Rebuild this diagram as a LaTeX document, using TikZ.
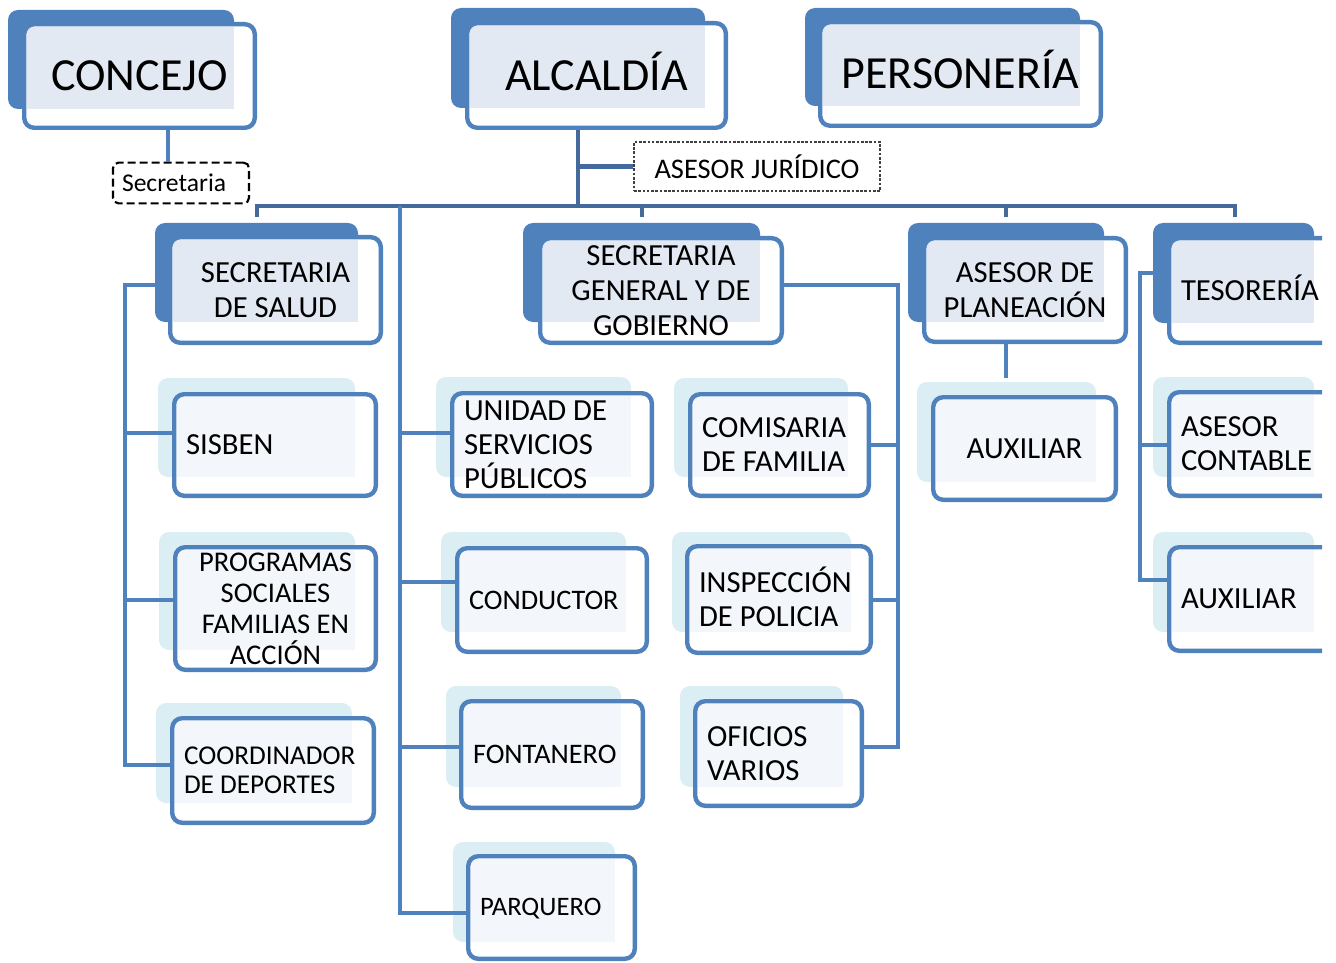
\documentclass[tikz,border=0pt]{standalone}
\usepackage{fontspec}
\setmainfont{Carlito}
\usetikzlibrary{calc}
\definecolor{boxblue}{HTML}{4F81BD}
\definecolor{busblue}{HTML}{44699C}
\definecolor{lightback}{HTML}{DBEEF3}
\definecolor{dotcol}{HTML}{E3E9F2}
\definecolor{dotlt}{HTML}{F3F6FA}
\def\getB#1/#2/#3/#4\endget{\def\bxa{#1}\def\bya{#2}\def\bxb{#3}\def\byb{#4}}
\def\getF#1/#2/#3/#4\endget{\def\fxa{#1}\def\fya{#2}\def\fxb{#3}\def\fyb{#4}}
% #1 name, #2 back colour, #3 texture colour, #4 back x1/y1/x2/y2, #5 front x1/y1/x2/y2, #6 options, #7 text
\newcommand\mkbox[7]{%
  \getB#4\endget
  \getF#5\endget
  \fill[#2, rounded corners=7.5pt] (\bxa,\bya) rectangle (\bxb,\byb);
  \fill[white, rounded corners=7.5pt] ({\fxa+2},{\fya+2}) rectangle ({\fxb-2},{\fyb-2});
  \fill[#3] ({\fxa+5},{\fya+5}) rectangle (\bxb,\byb);
  \pgfmathsetmacro\bw{(\fxb-\fxa-4.4)*0.75}
  \pgfmathsetmacro\bh{(\fyb-\fya-4.4)*0.75}
  \pgfmathsetmacro\tw{(\fxb-\fxa-28)*0.75}
  \node[frontbox, minimum width=\bw pt, minimum height=\bh pt, text width=\tw pt, #6]
    (#1) at ({(\fxa+\fxb)/2},{(\fya+\fyb)/2}) {#7};
}
\tikzset{
  frontbox/.style={draw=boxblue, line width=3.3pt, rounded corners=7.5pt, inner sep=0pt, align=flush center, text=black},
  lft/.style={align=flush left},
  ftop/.style={font=\fontsize{34.5}{40}\selectfont},
  fmid/.style={font=\fontsize{23}{26}\selectfont},
  fsub/.style={font=\fontsize{23}{25.5}\selectfont},
  fprog/.style={font=\fontsize{21.4}{23.3}\selectfont},
  fcoord/.style={font=\fontsize{20.4}{21.8}\selectfont},
  fcond/.style={font=\fontsize{21.2}{24}\selectfont},
  fparq/.style={font=\fontsize{20}{24}\selectfont},
  conn/.style={draw=boxblue, line width=3pt},
  busline/.style={draw=busblue, line width=3.5pt, line join=miter},
  secbox/.style={draw=black, line width=1.6pt, dash pattern=on 6pt off 3pt, rounded corners=4pt,
    inner sep=0pt, align=flush left, font=\fontsize{19.2}{22}\selectfont},
  jurbox/.style={draw=black!75, line width=0.8pt, dash pattern=on 2pt off 1.2pt,
    inner sep=0pt, align=flush center, font=\fontsize{21.3}{24}\selectfont}
}
\begin{document}
\begin{tikzpicture}[x=0.75pt, y=-0.75pt]
\useasboundingbox (0,0) rectangle (1336,963);
\begin{scope}
\clip (0,0) rectangle (1322,963);
% top level
\mkbox{concejo}{boxblue}{dotcol}{8/10/234/109}{22/22/257/130}{ftop}{CONCEJO}
\mkbox{alcaldia}{boxblue}{dotcol}{451/8/705/108}{465/21/728/130}{ftop}{ALCALD\smash{Í}A}
\mkbox{personeria}{boxblue}{dotcol}{805/8/1080/106}{818/20/1103/128}{ftop}{PERSONER\smash{Í}A}
% second level
\mkbox{salud}{boxblue}{dotcol}{155/223/358/322}{168/235/383/345}{fmid}{SECRETARIA\\DE SALUD}
\mkbox{secgen}{boxblue}{dotcol}{523/223/760/322}{538/236/784/345}{fmid}{SECRETARIA\\GENERAL Y DE\\GOBIERNO}
\mkbox{planeacion}{boxblue}{dotcol}{908/223/1104/322}{922/236/1128/344}{fmid}{ASESOR DE\\PLANEACIÓN}
\mkbox{tesoreria}{boxblue}{dotcol}{1153/223/1314/323}{1167/236/1380/345}{fmid,lft}{TESORER\smash{Í}A}
% third level
\mkbox{sisben}{lightback}{dotlt}{158/378/355/477}{172/392/378/498}{fsub,lft}{SISBEN}
\mkbox{programas}{lightback}{dotlt}{159/532/355/650}{173/545/378/672}{fprog}{PROGRAMAS\\SOCIALES\\FAMILIAS EN\\ACCIÓN}
\mkbox{coordinador}{lightback}{dotlt}{156/703/352/803}{170/716/376/825}{fcoord,lft}{COORDINADOR\\DE DEPORTES}
\mkbox{unidad}{lightback}{dotlt}{436/377/631/477}{450/391/654/498}{fsub,lft}{UNIDAD DE\\SERVICIOS\\PÚBLICOS}
\mkbox{conductor}{lightback}{dotlt}{441/532/626/632}{455/546/649/654}{fcond,lft}{CONDUCTOR}
\mkbox{fontanero}{lightback}{dotlt}{446/686/621/787}{459/699/645/810}{fcond,lft}{FONTANERO}
\mkbox{parquero}{lightback}{dotlt}{453/842/615/942}{466/854/637/961}{fparq,lft,text depth=1.5pt}{PARQUERO}
\mkbox{comisaria}{lightback}{dotlt}{674/378/848/477}{688/392/871/498}{fsub,lft}{COMISARIA\\DE FAMILIA}
\mkbox{inspeccion}{lightback}{dotlt}{672/532/851/632}{685/544/873/655}{fsub,lft}{INSPECCI\smash{Ó}N\\DE POLICIA}
\mkbox{oficios}{lightback}{dotlt}{680/686/843/787}{693/699/864/808}{fsub,lft}{OFICIOS\\VARIOS}
\mkbox{auxplan}{lightback}{dotlt}{917/382/1096/482}{931/395/1118/502}{fsub}{AUXILIAR}
\mkbox{contable}{lightback}{dotlt}{1153/377/1314/477}{1167/390/1380/498}{fsub,lft}{ASESOR\\CONTABLE}
\mkbox{auxtes}{lightback}{dotlt}{1153/532/1314/632}{1167/545/1380/653}{fsub,lft}{AUXILIAR}
\end{scope}
% dashed boxes
\node[secbox, minimum width=102pt, minimum height=30.5pt, text width=88.5pt] (secretaria) at (181,183) {Secretaria};
\node[jurbox, minimum width=184.5pt, minimum height=36.75pt] (asesorj) at (757,166.5) {ASESOR JURÍDICO};
% helper coordinates
\coordinate (xA) at (125,0);
\coordinate (xB) at (400,0);
\coordinate (xC) at (898,0);
\coordinate (xD) at (1140,0);
\coordinate (xE) at (168,0);
\coordinate (xF) at (578,0);
\coordinate (xP) at (1006,0);
\coordinate (busL) at (257,206);
\coordinate (b1) at (257,217);
\coordinate (b2) at (642,217);
\coordinate (b3) at (1006,217);
\coordinate (b4) at (1235,217);
% connectors
\draw[conn] (concejo.south -| xE) -- (secretaria.north -| xE);
\draw[busline] (alcaldia.south -| xF) -- (xF |- busL);
\draw[busline] (xF |- asesorj.west) -- (asesorj.west);
\draw[busline] (b1) -- (b1 |- busL) -- (b4 |- busL) -- (b4);
\draw[busline] (b2 |- busL) -- (b2);
\draw[busline] (b3 |- busL) -- (b3);
% left column
\draw[conn] (salud.west |- 0,285) -- (xA |- 0,285) -- (xA |- 0,765) -- (coordinador.west |- 0,765);
\draw[conn] (xA |- 0,433) -- (sisben.west |- 0,433);
\draw[conn] (xA |- 0,600) -- (programas.west |- 0,600);
% middle column
\draw[conn] (xB |- busL) -- (xB |- 0,913) -- (parquero.west |- 0,913);
\draw[conn] (xB |- 0,433) -- (unidad.west |- 0,433);
\draw[conn] (xB |- 0,582) -- (conductor.west |- 0,582);
\draw[conn] (xB |- 0,747) -- (fontanero.west |- 0,747);
% secretaria general
\draw[conn] (secgen.east |- 0,285) -- (xC |- 0,285) -- (xC |- 0,747) -- (oficios.east |- 0,747);
\draw[conn] (xC |- 0,445) -- (comisaria.east |- 0,445);
\draw[conn] (xC |- 0,600) -- (inspeccion.east |- 0,600);
% planeacion
\draw[conn] (planeacion.south -| xP) -- (xP |- 0,378);
% tesoreria
\draw[conn] (tesoreria.west |- 0,273) -- (xD |- 0,273) -- (xD |- 0,580) -- (auxtes.west |- 0,580);
\draw[conn] (xD |- 0,445) -- (contable.west |- 0,445);
\end{tikzpicture}
\end{document}
